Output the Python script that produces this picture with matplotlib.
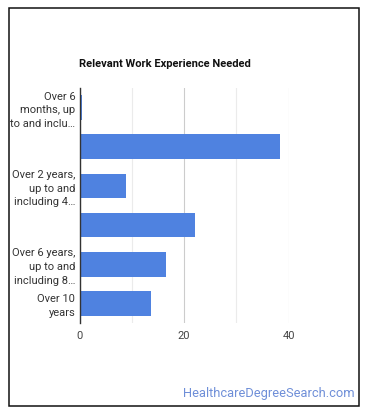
import matplotlib
matplotlib.use("Agg")
import matplotlib.pyplot as plt
from matplotlib.patches import Rectangle

plt.rcParams['font.family'] = ['Roboto', 'DejaVu Sans']

categories = [
    "Over 6 months, up to and including 1 year",
    "Over 1 year, up to and including 2 years",
    "Over 2 years, up to and including 4 years",
    "Over 4 years, up to and including 6 years",
    "Over 6 years, up to and including 8 years",
    "Over 10 years",
]
tick_labels = [
    "Over 6\nmonths, up\nto and inclu\u2026",
    "",
    "Over 2 years,\nup to and\nincluding 4\u2026",
    "",
    "Over 6 years,\nup to and\nincluding 8\u2026",
    "Over 10\nyears",
]
values = [0.5, 38.4, 8.8, 22.0, 16.6, 13.7]
xticks = [0, 20, 40]

W, H = 370, 417
fig = plt.figure(figsize=(W / 100, H / 100), dpi=100)

# outer frame
fig.patches.append(Rectangle((8.5 / W, 1 - 405.5 / H), 350.5 / W, 398 / H,
                             transform=fig.transFigure, fill=False,
                             edgecolor="#111111", lw=1.1))

ax = fig.add_axes([79.5 / W, 1 - 323 / H, (288.7 - 79.5) / W, (323 - 88) / H])
ypos = list(range(len(categories)))
ax.barh(ypos, values, height=0.63, color="#4f82e0", zorder=3)
ax.set_ylim(len(categories) - 0.5, -0.5)
ax.set_xlim(0, 40)
ax.set_yticks(ypos)
ax.set_yticklabels(tick_labels, fontsize=8, color="#333333", linespacing=1.45)
ax.set_xticks(xticks)
ax.set_xticklabels([str(t) for t in xticks], fontsize=8, color="#444444")
ax.set_xticks([10, 30], minor=True)
ax.tick_params(length=0, which="both")
ax.tick_params(axis="x", pad=6)
ax.tick_params(axis="y", pad=3)
ax.grid(axis="x", which="major", color="#cccccc", lw=0.8, zorder=0)
ax.grid(axis="x", which="minor", color="#ebebeb", lw=0.8, zorder=0)
for s in ["top", "right", "bottom"]:
    ax.spines[s].set_visible(False)
ax.spines["left"].set_color("#333333")
ax.spines["left"].set_linewidth(1.0)
ax.spines["left"].set_zorder(4)

fig.text(165 / W, 1 - 64 / H, "Relevant Work Experience Needed", ha="center",
         va="center", fontsize=8, fontweight="bold", color="#111111")
fig.text(355 / W, 1 - 393 / H, "HealthcareDegreeSearch.com", ha="right",
         va="center", fontsize=9.3, color="#6f8fd8")

fig.savefig("out.png", dpi=100)
